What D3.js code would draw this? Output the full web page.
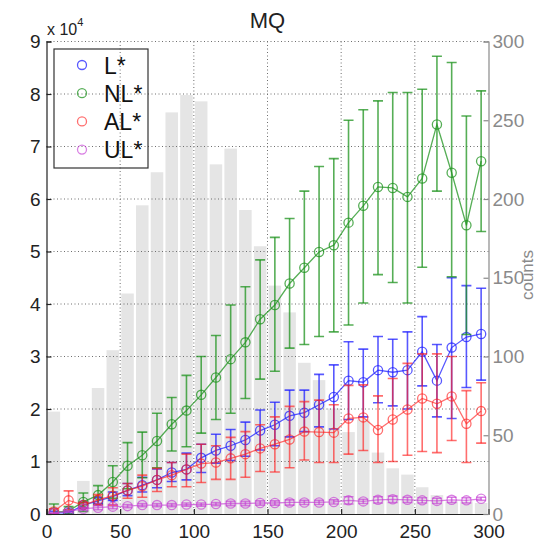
<!DOCTYPE html>
<html>
<head>
<style>
  body { margin: 0; background: #fff; }
  text { font-family: "Liberation Sans", Arial, sans-serif; }
</style>
</head>
<body>
<svg width="548" height="541"></svg>
<script src="https://cdn.jsdelivr.net/npm/d3@7"></script>
<script>
// bin centres (x) and histogram counts (right axis)
var bins = [5,15,25,35,45,55,65,75,85,95,105,115,125,135,145,155,165,175,185,195,205,215,225,235,245,255,265,275,285,295];
var counts = [65,3,21,80,104,140,196,217,255,266,262,222,232,193,170,145,128,96,85,67,52,60,39,29,25,17,12,8,8,7];

// series values in units of 1e4, with lower / upper error ends
var L_val = [0.02,0.02,0.17,0.25,0.33,0.45,0.55,0.65,0.79,0.85,1.07,1.21,1.30,1.41,1.59,1.70,1.87,1.93,2.08,2.23,2.54,2.51,2.74,2.70,2.74,3.09,2.54,3.17,3.37,3.43];
var L_lo  = [0.00,0.00,0.12,0.20,0.26,0.35,0.42,0.50,0.62,0.65,0.79,0.97,1.02,1.10,1.22,1.30,1.47,1.57,1.66,1.62,1.80,1.85,2.12,2.06,2.00,2.44,1.85,1.82,2.41,2.55];
var L_hi  = [0.05,0.05,0.22,0.31,0.42,0.58,0.70,0.86,0.98,1.16,1.33,1.52,1.61,1.75,1.98,2.13,2.36,2.36,2.66,2.84,3.28,3.14,3.38,3.33,3.47,3.76,3.23,4.50,4.35,4.30];

var NL_val = [0.03,0.06,0.23,0.36,0.61,0.92,1.12,1.39,1.71,1.97,2.27,2.60,2.95,3.27,3.71,3.98,4.39,4.69,4.99,5.12,5.55,5.87,6.23,6.21,6.04,6.39,7.42,6.50,5.50,6.72];
var NL_lo  = [-0.1,0.00,0.05,0.18,0.30,0.48,0.69,0.88,1.20,1.28,1.54,1.80,1.92,2.20,2.57,2.72,3.16,3.23,3.38,3.47,3.60,4.02,4.56,4.41,4.02,4.70,6.15,4.52,3.42,5.38];
var NL_hi  = [0.19,0.14,0.40,0.54,0.92,1.36,1.56,1.92,2.22,2.64,3.00,3.40,3.98,4.33,4.84,5.27,5.63,6.15,6.62,6.77,7.50,7.70,7.87,8.03,8.03,8.09,8.72,8.60,7.58,8.06];

var AL_val = [0.05,0.26,0.17,0.27,0.35,0.45,0.53,0.65,0.74,0.85,0.96,0.98,1.06,1.14,1.25,1.33,1.42,1.57,1.56,1.55,1.82,1.84,1.60,1.80,1.99,2.20,2.10,2.24,1.72,1.96];
var AL_lo  = [0.00,0.08,0.12,0.17,0.17,0.30,0.32,0.43,0.52,0.52,0.60,0.66,0.66,0.70,0.81,0.80,0.88,1.03,0.98,0.98,1.14,1.21,0.98,1.00,1.12,1.19,1.17,1.40,0.98,1.35];
var AL_hi  = [0.10,0.44,0.22,0.37,0.50,0.58,0.74,0.87,0.98,1.14,1.33,1.30,1.46,1.57,1.70,1.85,2.05,2.14,2.17,2.08,2.45,2.46,2.25,2.58,2.87,3.05,3.05,3.00,2.35,2.50];

var UL_val = [0.02,0.05,0.10,0.12,0.14,0.15,0.17,0.17,0.17,0.18,0.18,0.19,0.20,0.20,0.21,0.21,0.22,0.22,0.22,0.23,0.26,0.24,0.27,0.28,0.27,0.26,0.25,0.27,0.26,0.29];
var UL_err = [0.01,0.02,0.03,0.04,0.04,0.03,0.03,0.03,0.03,0.03,0.03,0.03,0.04,0.04,0.04,0.04,0.05,0.04,0.04,0.04,0.07,0.04,0.06,0.06,0.05,0.05,0.05,0.05,0.05,0.03];

var xTicks = [0,50,100,150,200,250,300];
var yTicks = [0,1,2,3,4,5,6,7,8,9];
var cTicks = [0,50,100,150,200,250,300];

var series = [
  { name: "L*",  color: "#2020ff", op: 0.75, val: L_val,  lo: L_lo,  hi: L_hi },
  { name: "NL*", color: "#1e931e", op: 0.75, val: NL_val, lo: NL_lo, hi: NL_hi },
  { name: "AL*", color: "#ff2020", op: 0.65, val: AL_val, lo: AL_lo, hi: AL_hi },
  { name: "UL*", color: "#c43ed4", op: 0.65, val: UL_val,
    lo: UL_val.map(function (v, i) { return v - UL_err[i]; }),
    hi: UL_val.map(function (v, i) { return v + UL_err[i]; }) }
];

var svg = d3.select("svg"),
    margin = { top: 41.5, left: 46.5 },
    width = 442,
    height = 472.5,
    g = svg.append("g").attr("transform", "translate(" + margin.left + "," + margin.top + ")");

var x = d3.scaleLinear().domain([0, 300]).range([0, width]);
var y = d3.scaleLinear().domain([0, 9]).range([height, 0]);
var yc = d3.scaleLinear().domain([0, 300]).range([height, 0]);

svg.append("defs").append("clipPath").attr("id", "clip")
  .append("rect").attr("width", width).attr("height", height);

// histogram bars
g.append("g").selectAll("rect")
  .data(bins)
  .enter().append("rect")
  .attr("x", function (d) { return x(d - 4.25); })
  .attr("width", x(8.5) - x(0))
  .attr("y", function (d, i) { return yc(counts[i]); })
  .attr("height", function (d, i) { return height - yc(counts[i]); })
  .attr("fill", "#e5e5e5");

// dotted grid
var grid = g.append("g").attr("stroke", "#6e6e6e").attr("stroke-width", 1).attr("stroke-dasharray", "1,2.5");
grid.selectAll(".gx").data(xTicks.slice(1, -1)).enter().append("line")
  .attr("x1", function (d) { return x(d); }).attr("x2", function (d) { return x(d); })
  .attr("y1", 0).attr("y2", height);
grid.selectAll(".gy").data(yTicks.slice(1)).enter().append("line")
  .attr("y1", function (d) { return y(d); }).attr("y2", function (d) { return y(d); })
  .attr("x1", 0).attr("x2", width);

// series
var plot = g.append("g").attr("clip-path", "url(#clip)");
var line = d3.line()
  .x(function (d, i) { return x(bins[i]); })
  .y(function (d) { return y(d); });

series.forEach(function (s) {
  var sg = plot.append("g").attr("stroke", s.color).attr("stroke-opacity", s.op).attr("fill", "none");
  var eb = sg.append("g").attr("stroke-width", 1.6);
  eb.selectAll(".v").data(bins).enter().append("line")
    .attr("x1", function (d) { return x(d); }).attr("x2", function (d) { return x(d); })
    .attr("y1", function (d, i) { return y(s.lo[i]); })
    .attr("y2", function (d, i) { return y(s.hi[i]); });
  [s.lo, s.hi].forEach(function (arr) {
    eb.selectAll(null).data(bins).enter().append("line")
      .attr("x1", function (d) { return x(d) - 5; }).attr("x2", function (d) { return x(d) + 5; })
      .attr("y1", function (d, i) { return y(arr[i]); })
      .attr("y2", function (d, i) { return y(arr[i]); });
  });
  sg.append("path").datum(s.val).attr("stroke-width", 1.3).attr("d", line);
  sg.selectAll("circle").data(s.val).enter().append("circle")
    .attr("cx", function (d, i) { return x(bins[i]); })
    .attr("cy", function (d) { return y(d); })
    .attr("r", 4.6)
    .attr("stroke-width", 1.3);
});

// axes
var xAxis = g.append("g").attr("transform", "translate(0," + height + ")")
  .call(d3.axisBottom(x).tickValues(xTicks).tickSize(-5).tickPadding(9));
var yAxis = g.append("g")
  .call(d3.axisLeft(y).tickValues(yTicks).tickSize(-5).tickPadding(6));
var cAxis = g.append("g").attr("transform", "translate(" + width + ",0)")
  .call(d3.axisRight(yc).tickValues(cTicks).tickSize(-5).tickPadding(4));

[xAxis, yAxis].forEach(function (a) {
  a.selectAll("path, line").attr("stroke", "#222").attr("stroke-width", 1.2);
  a.selectAll("text").attr("fill", "#222").style("font-size", "19px");
});
cAxis.selectAll("path, line").attr("stroke", "#8a8a8a").attr("stroke-width", 1.2);
cAxis.selectAll("text").attr("fill", "#8a8a8a").style("font-size", "19px");
xAxis.selectAll("text").attr("dy", "0.8em");

// title and labels
svg.append("text").attr("x", 267.5).attr("y", 28).attr("text-anchor", "middle")
  .style("font-size", "22px").attr("fill", "#222").text("MQ");
var expo = svg.append("text").attr("x", 47).attr("y", 35).attr("fill", "#222").style("font-size", "16px");
expo.append("tspan").text("x 10");
expo.append("tspan").attr("dy", -9).style("font-size", "11px").text("4");
svg.append("text").attr("transform", "translate(533,275) rotate(-90)")
  .attr("text-anchor", "middle").attr("fill", "#8a8a8a").style("font-size", "17px").text("counts");

// legend
var leg = svg.append("g");
leg.append("rect").attr("x", 54).attr("y", 49).attr("width", 94).attr("height", 119)
  .attr("fill", "none").attr("stroke", "#333").attr("stroke-width", 1.2);
series.forEach(function (s, i) {
  var ry = 65 + i * 28.2;
  leg.append("circle").attr("cx", 82).attr("cy", ry).attr("r", 4.5)
    .attr("fill", "none").attr("stroke", s.color).attr("stroke-opacity", s.op).attr("stroke-width", 1.3);
  leg.append("text").attr("x", 104).attr("y", ry + 8.5).attr("fill", "#111")
    .style("font-size", "23px").text(s.name);
});
</script>
</body>
</html>
